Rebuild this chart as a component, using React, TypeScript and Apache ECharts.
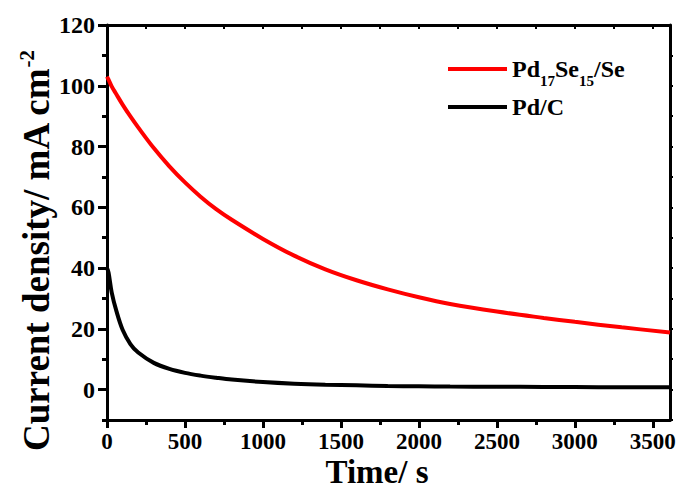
import React, { useEffect, useRef } from "react";
import * as echarts from "echarts";

const timeS = [0, 10, 30, 60, 100, 150, 200, 300, 400, 500, 600, 700, 800, 1000, 1200, 1400, 1600, 1800, 2000, 2200, 2500, 2800, 3000, 3300, 3610];
const pdSeSe = [103, 102, 99.8, 97.2, 93.8, 89.9, 86.3, 79.5, 73.5, 68.2, 63.5, 59.4, 55.9, 49.6, 44.1, 39.6, 36.0, 33.0, 30.4, 28.2, 25.7, 23.6, 22.3, 20.5, 18.8];
const pdC = [40, 38.5, 32, 25.9, 19.7, 15.0, 12.2, 8.8, 6.8, 5.5, 4.6, 3.9, 3.3, 2.5, 1.95, 1.6, 1.4, 1.2, 1.1, 1.0, 0.95, 0.9, 0.85, 0.8, 0.8];

const xMajor = [0, 500, 1000, 1500, 2000, 2500, 3000, 3500];
const xMinor = [250, 750, 1250, 1750, 2250, 2750, 3250];
const xTop = [250, 500, 750, 1000, 1250, 1500, 1750, 2000, 2250, 2500, 2750, 3000, 3250, 3500];
const yMajor = [0, 20, 40, 60, 80, 100, 120];
const yMinor = [-10, 10, 30, 50, 70, 90, 110];
const yRight = [-10, 0, 10, 20, 30, 40, 50, 60, 70, 80, 90, 100, 110];

const seriesNames = ["Pd17Se15/Se", "Pd/C"];
const xTitle = "Time/ s";
const yTitle = "Current density/ mA cm";
const yTitleSup = "-2";

const FONT = "'Liberation Serif', 'Times New Roman', serif";
const X_MIN = 0;
const X_MAX = 3610;
const Y_MIN = -10;
const Y_MAX = 120;

export default function App() {
  const ref = useRef<HTMLDivElement>(null);
  useEffect(() => {
    if (!ref.current) return;
    const chart = echarts.init(ref.current, null, { renderer: "svg" });
    const axisLine = { show: true, onZero: false, lineStyle: { color: "#000", width: 3 } };
    const tickStyle = { color: "#000", width: 3 };
    const labelStyle = { fontWeight: "bold" as const, fontFamily: FONT, color: "#000" };
    const plain = (v: number) => String(v);
    const option: any = {
      animation: false,
      backgroundColor: "#fff",
      grid: { left: 107, right: 16, top: 25, bottom: 78, containLabel: false },
      legend: {
        orient: "vertical",
        left: 443,
        top: 52,
        icon: "rect",
        itemWidth: 59,
        itemHeight: 4,
        itemGap: 7,
        data: seriesNames,
        formatter: (name: string) =>
          name === "Pd17Se15/Se"
            ? "{b|Pd}{s|17}{b|Se}{s|15}{b|/Se}"
            : "{b|" + name + "}",
        textStyle: {
          rich: {
            b: { fontSize: 24, fontWeight: "bold", fontFamily: FONT, color: "#000", lineHeight: 26 },
            s: { fontSize: 15, fontWeight: "bold", fontFamily: FONT, color: "#000", lineHeight: 26, verticalAlign: "bottom", padding: [0, 0, -6, 0] },
          },
        },
      },
      xAxis: [
        {
          type: "value", min: X_MIN, max: X_MAX, position: "bottom",
          axisLine,
          axisTick: { show: true, customValues: xMajor, length: 8, lineStyle: tickStyle },
          axisLabel: { customValues: xMajor, margin: 10, fontSize: 23, formatter: plain, ...labelStyle },
          splitLine: { show: false },
        },
        {
          type: "value", min: X_MIN, max: X_MAX, position: "bottom",
          axisLine: { show: false, onZero: false },
          axisTick: { show: true, customValues: xMinor, length: 5, lineStyle: tickStyle },
          axisLabel: { show: false },
          splitLine: { show: false },
        },
        {
          type: "value", min: X_MIN, max: X_MAX, position: "top",
          axisLine,
          axisTick: { show: true, inside: true, customValues: xTop, length: 4, lineStyle: { color: "#000", width: 2 } },
          axisLabel: { show: false },
          splitLine: { show: false },
        },
      ],
      yAxis: [
        {
          type: "value", min: Y_MIN, max: Y_MAX, position: "left",
          axisLine,
          axisTick: { show: true, customValues: yMajor, length: 9, lineStyle: tickStyle },
          axisLabel: { customValues: yMajor, margin: 12, fontSize: 24, formatter: plain, ...labelStyle },
          splitLine: { show: false },
        },
        {
          type: "value", min: Y_MIN, max: Y_MAX, position: "left",
          axisLine: { show: false, onZero: false },
          axisTick: { show: true, customValues: yMinor, length: 5, lineStyle: tickStyle },
          axisLabel: { show: false },
          splitLine: { show: false },
        },
        {
          type: "value", min: Y_MIN, max: Y_MAX, position: "right",
          axisLine,
          axisTick: { show: true, customValues: yRight, length: 3, lineStyle: { color: "#000", width: 2 } },
          axisLabel: { show: false },
          splitLine: { show: false },
        },
      ],
      series: [
        {
          name: seriesNames[0], type: "line", xAxisIndex: 0, yAxisIndex: 0,
          data: timeS.map((t, i) => [t, pdSeSe[i]]),
          symbol: "none", smooth: 0.35,
          lineStyle: { color: "#ff0000", width: 4 }, itemStyle: { color: "#ff0000" },
        },
        {
          name: seriesNames[1], type: "line", xAxisIndex: 0, yAxisIndex: 0,
          data: timeS.map((t, i) => [t, pdC[i]]),
          symbol: "none", smooth: 0.35,
          lineStyle: { color: "#000", width: 4 }, itemStyle: { color: "#000" },
        },
      ],
      graphic: [
        {
          type: "text", x: 36, y: 251, rotation: Math.PI / 2,
          style: {
            text: "{a|" + yTitle + "}{p|" + yTitleSup + "}",
            align: "center", verticalAlign: "middle",
            rich: {
              a: { fontSize: 37, fontWeight: "bold", fontFamily: FONT, fill: "#000", lineHeight: 40 },
              p: { fontSize: 21, fontWeight: "bold", fontFamily: FONT, fill: "#000", lineHeight: 40, verticalAlign: "top", padding: [0, 0, 10, 0] },
            },
          },
        },
        {
          type: "text", x: 377, y: 472,
          style: {
            text: xTitle, align: "center", verticalAlign: "middle",
            fontSize: 33, fontWeight: "bold", fontFamily: FONT, fill: "#000",
          },
        },
      ],
    };
    chart.setOption(option);
    return () => chart.dispose();
  }, []);
  return <div ref={ref} style={{ position: "absolute", left: 0, top: 0, width: 686, height: 498 }} />;
}
